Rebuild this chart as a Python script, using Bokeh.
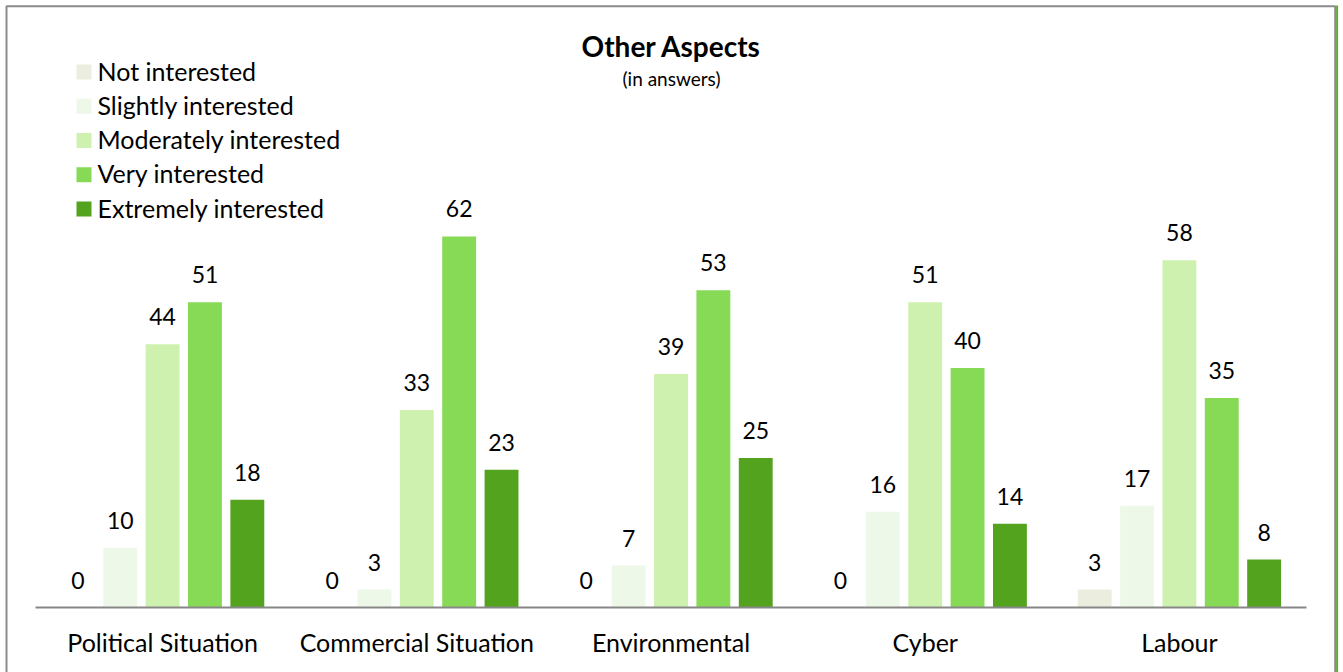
from bokeh.plotting import figure
from bokeh.models import Range1d, ColumnDataSource
from bokeh.core.properties import value
from bokeh.embed import file_html
from bokeh.resources import INLINE

# ---- data ----
categories = ["Political Situation", "Commercial Situation", "Environmental", "Cyber", "Labour"]
series = ["Not interested", "Slightly interested", "Moderately interested",
          "Very interested", "Extremely interested"]
not_interested = [0, 0, 0, 0, 3]
slightly_interested = [10, 3, 7, 16, 17]
moderately_interested = [44, 33, 39, 51, 58]
very_interested = [51, 62, 53, 40, 35]
extremely_interested = [18, 23, 25, 14, 8]
series_values = [not_interested, slightly_interested, moderately_interested,
                 very_interested, extremely_interested]
colors = ["#EBEEDE", "#EEF8E8", "#CEF1AF", "#87DA56", "#53A31F"]

title_text = "Other Aspects"
subtitle_text = "(in answers)"

# ---- canvas layout (pixels) ----
W, H = 1343, 672
PLOT_LEFT, PLOT_RIGHT, BASELINE = 35, 1306, 607
UNIT_PX = 5.985                      # pixels per answer
n_groups = len(categories)
group_px = (PLOT_RIGHT - PLOT_LEFT) / n_groups

x_range = Range1d(-PLOT_LEFT / group_px, n_groups + (W - PLOT_RIGHT) / group_px)
y_range = Range1d(-(H - BASELINE) / UNIT_PX, BASELINE / UNIT_PX)


def px_x(px):
    return x_range.start + px / group_px


def px_y(py):
    return y_range.end - py / UNIT_PX


FONT = "Lato"
TEXT_COLOR = "#000000"

p = figure(width=W, height=H, x_range=x_range, y_range=y_range,
           output_backend="svg", toolbar_location=None,
           x_axis_location=None, y_axis_location=None, min_border=0)
p.grid.visible = False
p.outline_line_color = None
p.background_fill_color = "white"
p.border_fill_color = "white"

# ---- card frame ----
p.line([px_x(6), px_x(6), px_x(1334.7), px_x(1334.7)],
       [px_y(H + 10), px_y(5.8), px_y(5.8), px_y(H + 10)],
       line_color="#8C8C8C", line_width=2)
p.line([px_x(1336.6), px_x(1336.6)], [px_y(5), px_y(H + 10)],
       line_color="#67A83A", line_width=2)

# ---- bars ----
n_series = len(series)
step = 1.0 / (n_series + 1)
bar_w = 0.8 * step
for k, (name, vals, col) in enumerate(zip(series, series_values, colors)):
    xs = [i + 0.5 + (k - (n_series - 1) / 2) * step for i in range(n_groups)]
    src = ColumnDataSource(dict(x=xs, top=vals, label=[str(v) for v in vals]))
    p.vbar(x="x", top="top", bottom=0, width=bar_w, source=src,
           fill_color=col, line_color=None)
    p.text(x="x", y="top", text="label", source=src, y_offset=-27.5,
           text_align="center", text_baseline="middle",
           text_font=value(FONT), text_font_size="23px", text_color=TEXT_COLOR)

# ---- baseline ----
p.segment(x0=[0], y0=[0], x1=[n_groups], y1=[0], line_color="#878787", line_width=2)

# ---- category labels ----
cat_src = ColumnDataSource(dict(x=[i + 0.5 for i in range(n_groups)], y=[0] * n_groups,
                                text=categories))
p.text(x="x", y="y", text="text", source=cat_src, y_offset=34,
       text_align="center", text_baseline="middle",
       text_font=value(FONT), text_font_size="25px", text_color=TEXT_COLOR)

# ---- legend ----
leg_y = [px_y(71.5 + 34.25 * k) for k in range(n_series)]
p.scatter(x=[px_x(83.5)] * n_series, y=leg_y, marker="square", size=15,
          fill_color=colors, line_color=None)
p.text(x=[px_x(97)] * n_series, y=leg_y, text=series, y_offset=-1.5,
       text_align="left", text_baseline="middle",
       text_font=value(FONT), text_font_size="25px", text_color=TEXT_COLOR)

# ---- title ----
p.text(x=[px_x(671)], y=[px_y(45)], text=[title_text], text_align="center",
       text_baseline="middle", text_font=value(FONT), text_font_size="28px",
       text_font_style="bold", text_color=TEXT_COLOR)
p.text(x=[px_x(671)], y=[px_y(78)], text=[subtitle_text], text_align="center",
       text_baseline="middle", text_font=value(FONT), text_font_size="19px",
       text_color=TEXT_COLOR)

open("out.html", "w").write(file_html(p, INLINE))
